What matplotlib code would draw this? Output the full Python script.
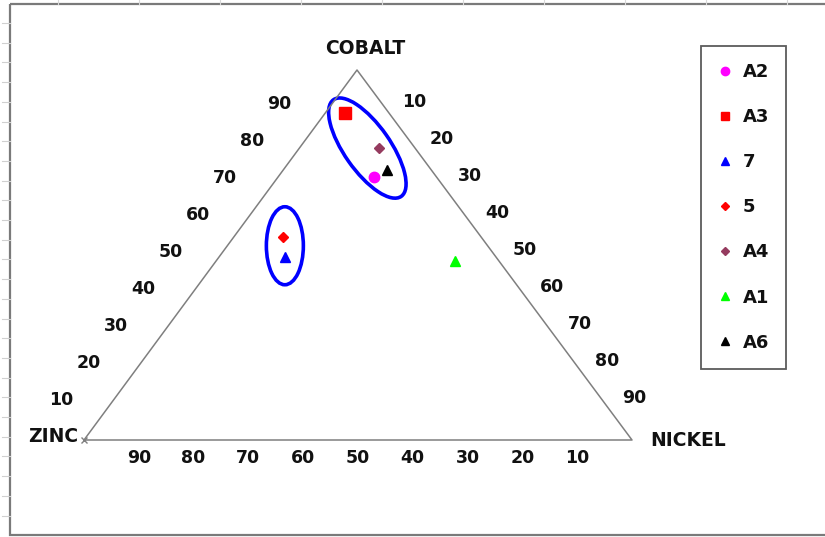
"""Ternary diagram Zn / Ni / Co for the sample compositions (Excel-style sheet)."""
import numpy as np
import matplotlib

matplotlib.use("Agg")
import matplotlib.pyplot as plt
from matplotlib.patches import Ellipse, Rectangle
from matplotlib.lines import Line2D

# --- data: composition in percent -------------------------------------------
samples = ["A2", "A3", "7", "5", "A4", "A1", "A6"]
zinc = [11.5, 8.0, 38.5, 36.0, 6.5, 8.0, 8.0]
nickel = [17.5, 3.5, 12.0, 9.0, 14.5, 43.5, 19.0]
cobalt = [71.0, 88.5, 49.5, 55.0, 79.0, 48.5, 73.0]
markers = ["o", "s", "^", "D", "D", "^", "^"]
colors = ["#FF00FF", "#FF0000", "#0000FF", "#FF0000", "#953B5F", "#00FF00", "#000000"]
sizes = [7.5, 8, 7.5, 5.5, 5.5, 7.5, 7.5]

tick_vals = [10, 20, 30, 40, 50, 60, 70, 80, 90]

# groups circled on the chart: centre composition (Zn, Ni, Co)
group_zinc = [8.7, 37.0]
group_nickel = [12.4, 10.5]
group_cobalt = [78.9, 52.5]

# --- layout (pixel space of the sheet) --------------------------------------
W, H = 825, 537
P_ZN = np.array([84.0, 440.0])
P_NI = np.array([632.0, 440.0])
P_CO = np.array([357.0, 70.0])
FONT = "DejaVu Sans"
TXT = "#111111"


def tern(zn, ni, co):
    zn, ni, co = (np.asarray(v, dtype=float) / 100.0 for v in (zn, ni, co))
    x = zn * P_ZN[0] + ni * P_NI[0] + co * P_CO[0]
    y = zn * P_ZN[1] + ni * P_NI[1] + co * P_CO[1]
    return x, y


fig = plt.figure(figsize=(W / 100, H / 100), dpi=100)
ax = fig.add_axes([0, 0, 1, 1])
ax.set_xlim(0, W)
ax.set_ylim(H, 0)
ax.axis("off")

# sheet remnants: frame, faint row ticks and column lines
ax.add_patch(Rectangle((10, 4), W, 531, fill=False, ec="#7a7a7a", lw=1.6))
for yy in np.arange(23, 535, 19.7):
    ax.plot([2, 10], [yy, yy], color="#d0d0d0", lw=0.8)
for xx in np.arange(58, W, 81):
    ax.plot([xx, xx], [0, 4], color="#d8d8d8", lw=0.8)

# triangle
tri = np.array([P_ZN, P_NI, P_CO, P_ZN])
ax.plot(tri[:, 0], tri[:, 1], color="#7f7f7f", lw=1.1)
ax.plot(*P_ZN, marker="x", color="#7f7f7f", ms=5, mew=1)

# tick labels
tick_kw = dict(ha="center", va="center", fontsize=12.5, fontweight="bold",
               family=FONT, color=TXT)
for v in tick_vals:
    x, y = tern(100 - v, 0, v)  # cobalt along left edge
    ax.text(x - 50, y - 3, f"{v}", **tick_kw)
    x, y = tern(0, v, 100 - v)  # nickel along right edge
    ax.text(x + 30, y - 5, f"{v}", **tick_kw)
    x, y = tern(v, 100 - v, 0)  # zinc along base
    ax.text(x, y + 18, f"{v}", **tick_kw)

name_kw = dict(va="center", fontsize=13.5, fontweight="bold", family=FONT, color=TXT)
ax.text(P_CO[0] + 8, P_CO[1] - 22, "COBALT", ha="center", **name_kw)
ax.text(P_ZN[0] - 6, P_ZN[1] - 3, "ZINC", ha="right", **name_kw)
ax.text(P_NI[0] + 18, P_NI[1], "NICKEL", ha="left", **name_kw)

# circled groups
gx, gy = tern(group_zinc, group_nickel, group_cobalt)
ax.add_patch(Ellipse((gx[0], gy[0]), 118, 46, angle=55, fill=False, ec="#0000FF", lw=2.6))
ax.add_patch(Ellipse((gx[1], gy[1]), 37, 78, angle=0, fill=False, ec="#0000FF", lw=2.6))

# samples
px, py = tern(zinc, nickel, cobalt)
handles = []
for i, name in enumerate(samples):
    ax.plot(px[i], py[i], marker=markers[i], color=colors[i], ms=sizes[i],
            ls="none", zorder=5)
    handles.append(Line2D([], [], marker=markers[i], color=colors[i], ls="none",
                          ms=sizes[i] * 0.8, label=name))

leg = ax.legend(handles=handles, loc="upper left", bbox_to_anchor=(701 / W, 1 - 46 / H),
                bbox_transform=fig.transFigure, frameon=True, fancybox=False,
                edgecolor="#333333", labelspacing=1.5, handlelength=0.8,
                handletextpad=0.55, borderpad=0.95, borderaxespad=0,
                prop={"family": FONT, "weight": "bold", "size": 13})
leg.get_frame().set_linewidth(1.3)
for t in leg.get_texts():
    t.set_color(TXT)

fig.savefig("out.png", dpi=100)
